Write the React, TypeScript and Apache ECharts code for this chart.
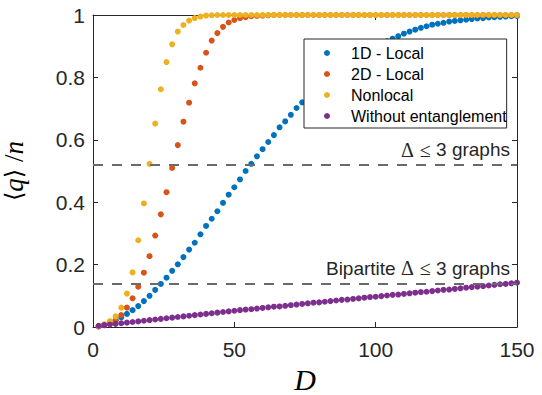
import React, { useEffect, useRef } from "react";
import * as echarts from "echarts";

const D = [
  2, 4, 6, 8, 10, 12, 14, 16, 18, 20,
  22, 24, 26, 28, 30, 32, 34, 36, 38, 40,
  42, 44, 46, 48, 50, 52, 54, 56, 58, 60,
  62, 64, 66, 68, 70, 72, 74, 76, 78, 80,
  82, 84, 86, 88, 90, 92, 94, 96, 98, 100,
  102, 104, 106, 108, 110, 112, 114, 116, 118, 120,
  122, 124, 126, 128, 130, 132, 134, 136, 138, 140,
  142, 144, 146, 148, 150,
];

const oneDLocal = [
  0.002, 0.007, 0.014, 0.022, 0.031, 0.042, 0.054, 0.067, 0.083, 0.1,
  0.119, 0.138, 0.158, 0.18, 0.201, 0.224, 0.248, 0.27, 0.297, 0.324,
  0.347, 0.371, 0.398, 0.424, 0.448, 0.473, 0.5, 0.523, 0.547, 0.57,
  0.593, 0.615, 0.64, 0.659, 0.68, 0.702, 0.72, 0.738, 0.755, 0.772,
  0.788, 0.803, 0.818, 0.832, 0.845, 0.857, 0.869, 0.88, 0.89, 0.9,
  0.908, 0.916, 0.924, 0.932, 0.94, 0.947, 0.953, 0.959, 0.964, 0.969,
  0.972, 0.975, 0.979, 0.981, 0.983, 0.985, 0.987, 0.989, 0.99, 0.992,
  0.993, 0.994, 0.995, 0.996, 0.997,
];

const twoDLocal = [
  0.002, 0.006, 0.012, 0.022, 0.038, 0.062, 0.092, 0.129, 0.174, 0.227,
  0.293, 0.361, 0.432, 0.51, 0.583, 0.658, 0.719, 0.781, 0.831, 0.879,
  0.918, 0.942, 0.962, 0.976, 0.984, 0.99, 0.993, 0.996, 0.997, 0.998,
  0.999, 1, 1, 1, 1, 1, 1, 1, 1, 1,
  1, 1, 1, 1, 1, 1, 1, 1, 1, 1,
  1, 1, 1, 1, 1, 1, 1, 1, 1, 1,
  1, 1, 1, 1, 1, 1, 1, 1, 1, 1,
  1, 1, 1, 1, 1,
];

const nonlocal = [
  0.003, 0.009, 0.019, 0.034, 0.062, 0.107, 0.175, 0.278, 0.396, 0.523,
  0.652, 0.762, 0.849, 0.906, 0.947, 0.968, 0.982, 0.99, 0.995, 0.998,
  0.999, 1, 1, 1, 1, 1, 1, 1, 1, 1,
  1, 1, 1, 1, 1, 1, 1, 1, 1, 1,
  1, 1, 1, 1, 1, 1, 1, 1, 1, 1,
  1, 1, 1, 1, 1, 1, 1, 1, 1, 1,
  1, 1, 1, 1, 1, 1, 1, 1, 1, 1,
  1, 1, 1, 1, 1,
];

const withoutEntanglement = [
  0.004, 0.006, 0.008, 0.01, 0.012, 0.014, 0.016, 0.018, 0.02, 0.022,
  0.024, 0.026, 0.028, 0.03, 0.032, 0.034, 0.036, 0.038, 0.04, 0.042,
  0.044, 0.046, 0.048, 0.05, 0.052, 0.054, 0.056, 0.057, 0.059, 0.061,
  0.063, 0.065, 0.066, 0.068, 0.07, 0.072, 0.074, 0.076, 0.078, 0.079,
  0.081, 0.083, 0.085, 0.087, 0.088, 0.09, 0.092, 0.094, 0.096, 0.097,
  0.099, 0.101, 0.103, 0.104, 0.106, 0.108, 0.11, 0.112, 0.113, 0.115,
  0.117, 0.119, 0.12, 0.122, 0.124, 0.126, 0.128, 0.129, 0.131, 0.133,
  0.135, 0.137, 0.138, 0.14, 0.142,
];

const seriesNames = ["1D - Local", "2D - Local", "Nonlocal", "Without entanglement"];
const seriesColors = ["#0072BD", "#D95319", "#EDB120", "#7E2F8E"];
const seriesValues = [oneDLocal, twoDLocal, nonlocal, withoutEntanglement];

const thresholdGeneral = 0.52;
const thresholdBipartite = 0.137;

const AX = "#262626";

function makeOption() {
  const scatterSeries = seriesNames.map((name, i) => ({
    name,
    type: "scatter",
    symbol: "circle",
    symbolSize: 6,
    itemStyle: { color: seriesColors[i], opacity: 1 },
    data: D.map((d, k) => [d, seriesValues[i][k]]),
    z: 2,
  }));

  const labelRich = {
    m: { fontFamily: "Liberation Serif", fontSize: 20, color: AX },
    g: { fontFamily: "Liberation Sans", fontSize: 19, color: AX, width: 6 },
    t: { fontFamily: "Liberation Sans", fontSize: 19, color: AX },
  };

  const dashed = {
    type: [10, 9],
    color: "#6a6a6a",
    width: 2,
  };

  const refSeries = {
    name: "ref",
    type: "line",
    data: [],
    z: 5,
    markLine: {
      silent: true,
      symbol: "none",
      animation: false,
      lineStyle: dashed,
      label: {
        show: true,
        position: "insideEndTop",
        distance: [7, 5],
        rich: labelRich,
      },
      data: [
        {
          yAxis: thresholdGeneral,
          label: { formatter: "{m|Δ}{g| }{m|≤}{t| 3 graphs}" },
        },
        {
          yAxis: thresholdBipartite,
          label: { formatter: "{t|Bipartite }{m|Δ}{g| }{m|≤}{t| 3 graphs}" },
        },
      ],
    },
  };

  const baseX = {
    type: "value",
    min: 0,
    max: 150,
    interval: 50,
    splitLine: { show: false },
    axisLine: { onZero: false, lineStyle: { color: AX, width: 1 } },
    axisTick: { inside: true, length: 5, lineStyle: { color: AX } },
  };
  const baseY = {
    type: "value",
    min: 0,
    max: 1,
    interval: 0.2,
    splitLine: { show: false },
    axisLine: { onZero: false, lineStyle: { color: AX, width: 1 } },
    axisTick: { inside: true, length: 5, lineStyle: { color: AX } },
  };

  return {
    animation: false,
    backgroundColor: "#ffffff",
    grid: { left: 93, right: 25, top: 15, bottom: 68, containLabel: false, outerBoundsMode: "none" },
    legend: {
      data: seriesNames,
      orient: "vertical",
      left: 304,
      top: 39,
      padding: [6, 0, 4, 20],
      itemGap: 5,
      itemWidth: 38,
      itemHeight: 6,
      backgroundColor: "#ffffff",
      borderColor: AX,
      borderWidth: 1,
      borderRadius: 0,
      textStyle: { fontFamily: "Liberation Sans", fontSize: 16, color: "#000" },
      z: 10,
    },
    xAxis: [
      {
        ...baseX,
        position: "bottom",
        axisLabel: { color: AX, fontFamily: "Liberation Sans", fontSize: 21, margin: 12 },
        name: "D",
        nameLocation: "middle",
        nameGap: 33,
        nameTextStyle: {
          fontFamily: "Liberation Serif",
          fontStyle: "italic",
          fontSize: 30,
          lineHeight: 30,
          color: "#000",
        },
      },
      { ...baseX, position: "top", axisLabel: { show: false } },
    ],
    yAxis: [
      {
        ...baseY,
        position: "left",
        axisLabel: { color: AX, fontFamily: "Liberation Sans", fontSize: 21, margin: 8 },
        name: "{b|⟨}{i|q}{b|⟩}{s| /}{i|n}",
        nameLocation: "middle",
        nameGap: 66,
        nameTextStyle: {
          rich: {
            b: { fontFamily: "DejaVu Serif", fontSize: 24, color: "#000" },
            i: { fontFamily: "Liberation Serif", fontStyle: "italic", fontSize: 27, color: "#000" },
            s: { fontFamily: "Liberation Serif", fontSize: 27, color: "#000" },
          },
        },
      },
      { ...baseY, position: "right", axisLabel: { show: false } },
    ],
    series: [...scatterSeries, refSeries],
  };
}

export default function App() {
  const ref = useRef<HTMLDivElement>(null);
  useEffect(() => {
    if (!ref.current) return;
    const chart = echarts.init(ref.current, null, { renderer: "svg" });
    chart.setOption(makeOption() as any);
    return () => chart.dispose();
  }, []);
  return (
    <div
      ref={ref}
      style={{ position: "fixed", left: 0, top: 0, width: 542, height: 395, background: "#fff" }}
    />
  );
}
